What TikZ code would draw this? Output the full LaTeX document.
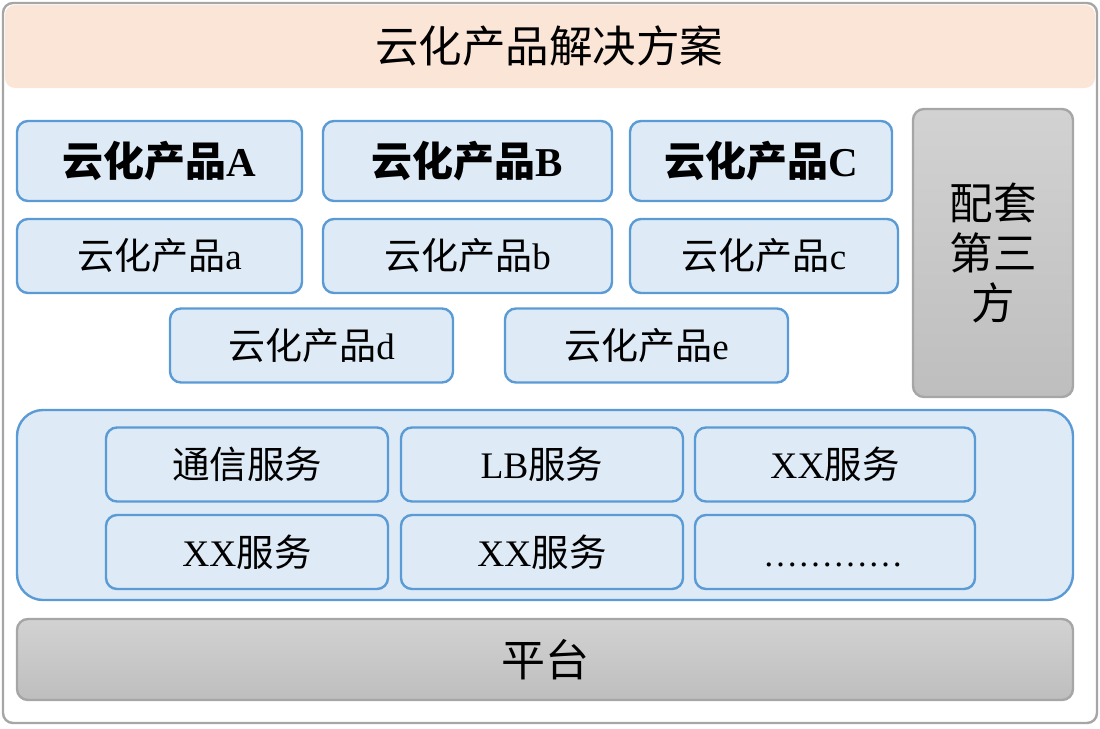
\documentclass[tikz,border=0pt]{standalone}
\usepackage{fontspec}
\setmainfont{Liberation Serif}
\newfontfamily\cjk{Noto Sans CJK SC}
\definecolor{frameg}{HTML}{A6A6A6}
\definecolor{peach}{HTML}{FBE5D6}
\definecolor{lblue}{HTML}{DEEBF7}
\definecolor{bblue}{HTML}{5B9BD5}
\definecolor{gtop}{HTML}{D2D2D2}
\definecolor{gbot}{HTML}{BEBEBE}
\begin{document}
\begin{tikzpicture}[x=1pt,y=-1pt,
  bluebox/.style={draw=bblue, line width=2.4pt, fill=lblue, rounded corners=11pt, inner sep=0pt},
  graybox/.style={draw=frameg, line width=2.4pt, top color=gtop, bottom color=gbot, rounded corners=11pt, inner sep=0pt},
  prodbig/.style={bluebox, minimum height=80pt, font=\fontsize{41}{44}\selectfont\bfseries},
  prodsm/.style={bluebox, minimum height=74pt, font=\fontsize{37}{40}\selectfont},
  svc/.style={bluebox, minimum width=282pt, minimum height=74pt, font=\fontsize{37.5}{40}\selectfont}]
\useasboundingbox (0,0) rectangle (1100,728);
% header
\fill[peach, rounded corners=10pt] (5,5) rectangle (1095,88);
\node (title) at (549,46) {\fontsize{43.5}{46}\selectfont\cjk 云化产品解决方案};
% outer frame
\draw[frameg, line width=2.4pt, rounded corners=10pt] (3,3) rectangle (1097,723);
% products
\node[prodbig, minimum width=285pt] (pA) at (159.5,161) {{\cjk 云化产品}A};
\node[prodbig, minimum width=289pt] (pB) at (467.5,161) {{\cjk 云化产品}B};
\node[prodbig, minimum width=262pt] (pC) at (761,161) {{\cjk 云化产品}C};
\node[prodsm, minimum width=285pt] (pa) at (159.5,256) {{\cjk 云化产品}a};
\node[prodsm, minimum width=289pt] (pb) at (467.5,256) {{\cjk 云化产品}b};
\node[prodsm, minimum width=268pt] (pc) at (764,256) {{\cjk 云化产品}c};
\node[prodsm, minimum width=283pt] (pd) at (311.5,345.5) {{\cjk 云化产品}d};
\node[prodsm, minimum width=283pt] (pe) at (646.5,345.5) {{\cjk 云化产品}e};
% third party
\node[graybox, minimum width=160pt, minimum height=288pt, align=center,
  font=\fontsize{43.5}{50}\selectfont\cjk] (third) at (993,253) {配套\\第三\\方};
% services container
\node[bluebox, rounded corners=26pt, minimum width=1056pt, minimum height=190pt] (svcbg) at (545,505) {};
\node[svc] (s1) at (247,464.5) {\cjk 通信服务};
\node[svc] (s2) at (542,464.5) {LB{\cjk 服务}};
\node[svc, minimum width=280pt] (s3) at (835,464.5) {XX{\cjk 服务}};
\node[svc] (s4) at (247,552) {XX{\cjk 服务}};
\node[svc] (s5) at (542,552) {XX{\cjk 服务}};
\node[svc, minimum width=280pt] (s6) at (835,552) {};
\node[anchor=base, inner sep=0pt, font=\fontsize{35}{38}\selectfont] (dots) at (833,566) {…………};
% platform
\node[graybox, minimum width=1056pt, minimum height=81pt, font=\fontsize{44}{46}\selectfont\cjk] (plat) at (545,659.5) {平台};
\end{tikzpicture}
\end{document}
